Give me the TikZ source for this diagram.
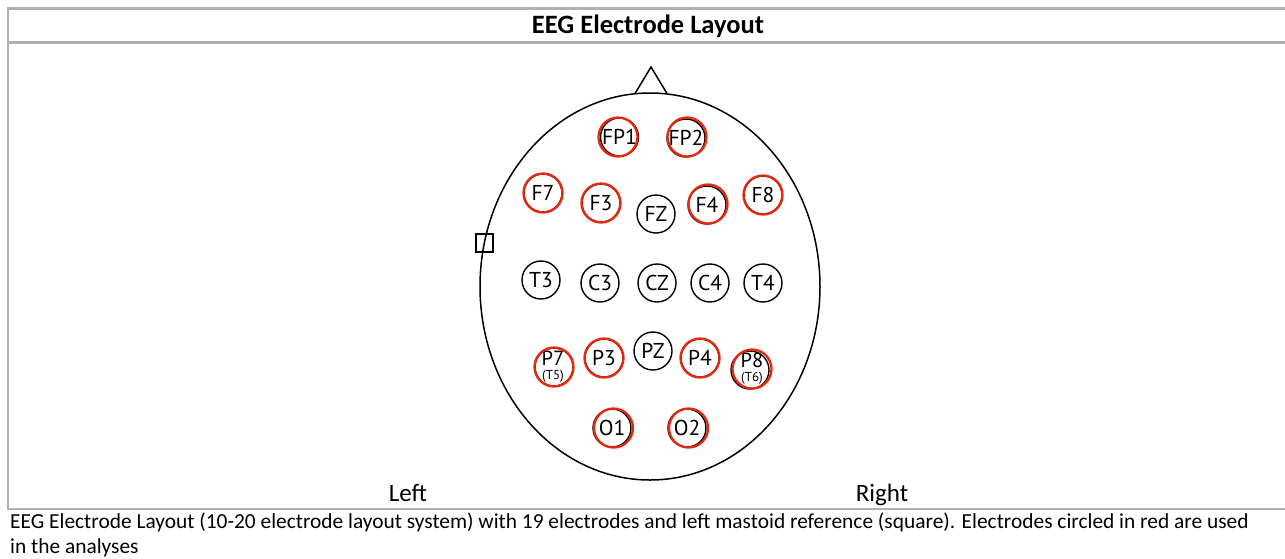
\documentclass[tikz,border=0pt]{standalone}
\usepackage{fontspec}
\setmainfont{Carlito}
\newfontfamily\elecfont{PT Sans}
\definecolor{gridgray}{RGB}{176,176,176}
\definecolor{eegred}{RGB}{232,40,14}
\tikzset{
  gridline/.style={draw=gridgray, line width=2.2pt},
  elec/.style={circle, draw=black, line width=1.4pt, minimum size=38pt, inner sep=0pt,
    font=\elecfont\fontsize{21.5}{22}\selectfont},
  ring/.style={circle, draw=eegred, line width=2.3pt, minimum size=39pt, inner sep=0pt},
  headline/.style={draw=black, line width=1.5pt},
  sidelabel/.style={anchor=base, font=\fontsize{25}{28}\selectfont},
}
\begin{document}
\begin{tikzpicture}[x=1pt,y=-1pt]
\useasboundingbox (0,0) rectangle (1285,558);
% table lines
\draw[gridline] (8,8.5) -- (1285,8.5);
\draw[gridline] (8,42.5) -- (1285,42.5);
\draw[gridline] (8,509) -- (1285,509);
\draw[gridline] (8,7.4) -- (8,510.1);
% title
\node[font=\bfseries\fontsize{26.5}{28}\selectfont] (title) at (648,26) {EEG Electrode Layout};
% head
\draw[headline] (635,93.5) -- (651,67) -- (667,93.5);
\draw[headline, fill=white] (650,286.5) ellipse [x radius=170pt, y radius=193.5pt];
% mastoid reference
\node[draw=black, line width=1.2pt, minimum width=17pt, minimum height=18pt, inner sep=0pt] (ref) at (484.5,243) {};
% electrodes
\node[elec] (fp1) at (619.5,137) {FP1};
\node[elec] (fp2) at (686,138) {FP2};
\node[elec] (f7) at (543,193) {F7};
\node[elec] (f3) at (601,203) {F3};
\node[elec] (fz) at (656,214) {FZ};
\node[elec] (f4) at (707,205) {F4};
\node[elec] (f8) at (763,195) {F8};
\node[elec] (t3) at (541,280) {T3};
\node[elec] (c3) at (600,283) {C3};
\node[elec] (cz) at (657,283) {CZ};
\node[elec] (c4) at (710,283) {C4};
\node[elec] (t4) at (763,283) {T4};
\node[elec] (p7) at (554,367) {};
\node[elec] (p3) at (604,358) {P3};
\node[elec] (pz) at (653,351) {PZ};
\node[elec] (p4) at (700,358) {P4};
\node[elec] (p8) at (750,370) {};
\node[elec] (o1) at (612,428) {O1};
\node[elec] (o2) at (687,428) {O2};
% two-line labels
\node[font=\elecfont\fontsize{20.5}{21}\selectfont, inner sep=0pt] (p7a) at (553,358) {P7};
\node[font=\elecfont\fontsize{13}{13}\selectfont, inner sep=0pt] (p7b) at (553,376) {(T5)};
\node[font=\elecfont\fontsize{20.5}{21}\selectfont, inner sep=0pt] (p8a) at (752,360) {P8};
\node[font=\elecfont\fontsize{13}{13}\selectfont, inner sep=0pt] (p8b) at (752,378) {(T6)};
% red rings (electrodes used in analyses)
\node[ring] (rfp1) at (618,137) {};
\node[ring] (rfp2) at (687,137) {};
\node[ring] (rf7) at (543,193) {};
\node[ring] (rf3) at (601,203) {};
\node[ring] (rf4) at (708,204) {};
\node[ring] (rf8) at (763,195) {};
\node[ring] (rp7) at (554,367) {};
\node[ring] (rp3) at (604,358) {};
\node[ring] (rp4) at (700,358) {};
\node[ring] (rp8) at (752,369) {};
\node[ring] (ro1) at (613.5,428) {};
\node[ring] (ro2) at (688.5,428) {};
% side labels
\node[sidelabel] (left) at (408,501) {Left};
\node[sidelabel] (right) at (882,501) {Right};
% caption
\node[anchor=north west, align=left, inner sep=0pt, font=\fontsize{21.4}{25}\selectfont] (caption) at (10,513)
  {EEG Electrode Layout (10-20 electrode layout system) with 19 electrodes and left mastoid reference (square). Electrodes circled in red are used\\in the analyses};
\end{tikzpicture}
\end{document}
